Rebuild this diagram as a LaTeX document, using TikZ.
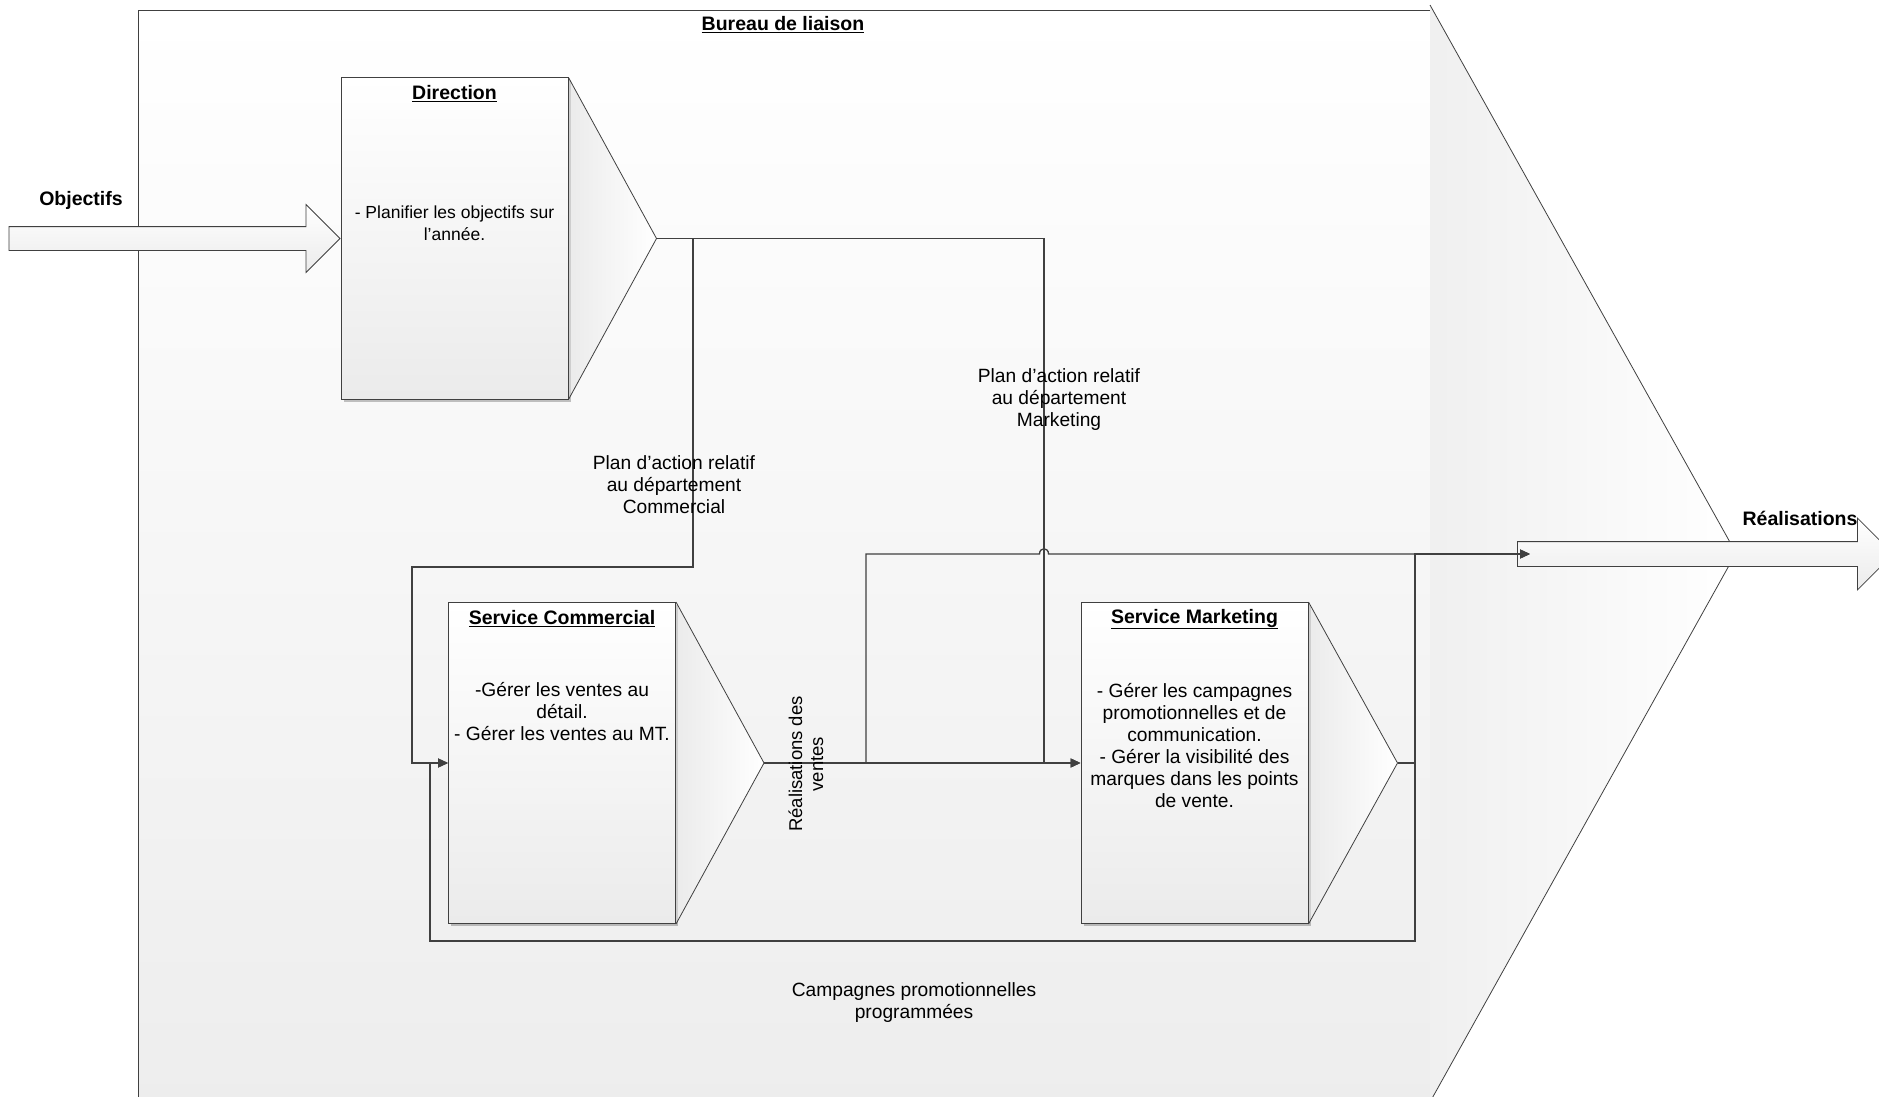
\documentclass[tikz,border=0pt]{standalone}
\usepackage{fontspec}
\setmainfont{Liberation Sans}
\usetikzlibrary{arrows.meta, shapes.arrows, shadows}

\definecolor{linegray}{HTML}{404040}
\definecolor{fillgray}{HTML}{EBEBEB}

\tikzset{
  svcbox/.style={draw=linegray, line width=1pt, top color=white, bottom color=fillgray,
    minimum width=227pt, minimum height=321pt, inner sep=0pt,
    drop shadow={shadow xshift=2.5pt, shadow yshift=-2.5pt, fill=black, opacity=0.12}},
  svcpoint/.style={draw=linegray, line width=0.8pt, left color=fillgray, right color=white},
  link/.style={draw=linegray, line width=1.3pt},
  linkarrow/.style={link, -{Triangle[length=10pt, width=9pt]}},
  bigarrow/.style={single arrow, draw=linegray, line width=0.8pt, top color=white,
    bottom color=fillgray, inner xsep=0pt, single arrow tip angle=90},
  txt/.style={font=\fontsize{19.2}{22}\selectfont, align=center},
  ttl/.style={font=\fontsize{19.5}{22}\selectfont\bfseries, align=center},
}

\begin{document}
\begin{tikzpicture}[x=1pt, y=-1pt]
\useasboundingbox (0,0) rectangle (1879,1097);

% bureau de liaison
\node[draw=linegray, line width=0.9pt, top color=white, bottom color=black!7,
  minimum width=1292pt, minimum height=1095pt, anchor=north west] (bureau) at (138,10) {};
\draw[svcpoint, left color=black!6] (1430,5) -- (1736,553) -- (1430,1102);
\node[ttl] (burtitle) at (783,25) {\underline{Bureau de liaison}};

% entrees / sorties
\node[svcbox] (dir) at (454.5,238.5) {};
\node[bigarrow, minimum height=331pt, minimum width=67pt, inner ysep=11.5pt,
  single arrow head extend=22pt, anchor=tip] (objarrow) at (dir.west) {};
\node[bigarrow, minimum height=376pt, minimum width=71pt, inner ysep=12pt,
  single arrow head extend=23.5pt, anchor=tail] (realarrow) at (1517,554) {};
\coordinate (realin) at ([xshift=13pt]realarrow.tail);
\node[ttl] (objlbl) at (81,200) {Objectifs};
\node[ttl] (reallbl) at (1800,518) {Réalisations};

% services
\coordinate (dirtip) at ([xshift=88pt]dir.east);
\draw[svcpoint] (dir.north east) -- (dirtip) -- (dir.south east);
\node[svcbox] (dir) at (454.5,238.5) {};

\node[svcbox] (com) at (562,763) {};
\coordinate (comtip) at ([xshift=88pt]com.east);
\draw[svcpoint] (com.north east) -- (comtip) -- (com.south east);
\node[svcbox] (com) at (562,763) {};

\node[svcbox] (mkt) at (1194.5,763) {};
\coordinate (mkttip) at ([xshift=89pt]mkt.east);
\draw[svcpoint] (mkt.north east) -- (mkttip) -- (mkt.south east);
\node[svcbox] (mkt) at (1194.5,763) {};

\node[ttl] (dirtitle) at (454.5,94) {\underline{Direction}};
\node[txt, font=\fontsize{17.5}{22}\selectfont] (dirtxt) at (454.5,223) {- Planifier les objectifs sur\\l’année.};
\node[ttl] (comtitle) at (562,619) {\underline{Service Commercial}};
\node[txt] (comtxt) at (562,712) {-Gérer les ventes au\\détail.\\- Gérer les ventes au MT.};
\node[ttl] (mkttitle) at (1194.5,619) {\underline{Service Marketing}};
\node[txt] (mkttxt) at (1194.5,746) {- Gérer les campagnes\\promotionnelles et de\\communication.\\- Gérer la visibilité des\\marques dans les points\\de vente.};

% flux
\draw[linkarrow] (dirtip) -| (693,567) -- (412,567) |- (com.west);
\draw[linkarrow] (dirtip) -| (1044,400) |- (mkt.west);
\draw[linkarrow] (comtip) -- (mkt.west);
\draw[linkarrow] (comtip) -| (866,554) -- (1039.5,554) .. controls (1039.5,547) and (1048.5,547) .. (1048.5,554) -- (realin);
\draw[linkarrow] (mkttip) -- (1415,763) |- (realin);
\draw[linkarrow] (mkttip) -- (1415,763) |- (430,941) |- (com.west);

\node[txt] (plancom) at (674,485) {Plan d’action relatif\\au département\\Commercial};
\node[txt] (planmkt) at (1059,400) {Plan d’action relatif\\au département\\Marketing};
\node[txt, font=\fontsize{18.5}{21}\selectfont, rotate=90] (ventes) at (806,764) {Réalisations des\\ventes};
\node[txt] (campagnes) at (914,1003) {Campagnes promotionnelles\\programmées};

\end{tikzpicture}
\end{document}
